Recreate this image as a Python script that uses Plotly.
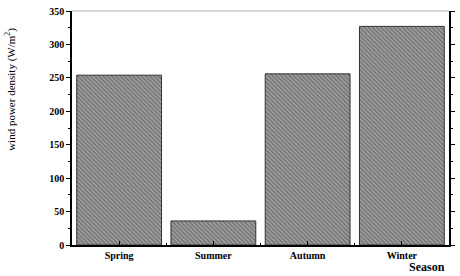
import plotly.graph_objects as go

seasons = ["Spring", "Summer", "Autumn", "Winter"]
density = [254, 36, 256, 327]
positions = [0, 1, 2, 3]
y_ticks = [0, 50, 100, 150, 200, 250, 300, 350]

font_fam = "Liberation Serif"

fig = go.Figure()
fig.add_trace(go.Bar(
    x=positions, y=density, width=0.9,
    marker=dict(
        color="#909090",
        line=dict(color="#333333", width=1),
        pattern=dict(shape="\\", size=3, solidity=0.45, fgcolor="#3c3c3c", bgcolor="#a0a0a0"),
    ),
))

fig.update_layout(
    width=460, height=276,
    margin=dict(l=72, r=5, t=11, b=31),
    plot_bgcolor="white", paper_bgcolor="white",
    showlegend=False,
    font=dict(family=font_fam, color="black"),
    xaxis=dict(
        range=[-0.5, 3.5],
        tickvals=positions, ticktext=[f"<b>{s}</b>" for s in seasons],
        ticks="inside", ticklen=4, tickcolor="black", tickwidth=1,
        minor=dict(tick0=0.5, dtick=1, ticks="inside", ticklen=2, tickcolor="black"),
        showline=True, linecolor="black", linewidth=1.5,
        showgrid=False, zeroline=False,
        tickfont=dict(size=10, family=font_fam),
    ),
    yaxis=dict(
        range=[0, 350],
        tickvals=y_ticks, ticktext=[f"<b>{v}</b>" for v in y_ticks],
        ticks="outside", ticklen=4, tickcolor="black", tickwidth=1,
        minor=dict(dtick=25, ticks="outside", ticklen=2, tickcolor="black"),
        showline=True, linecolor="black", linewidth=1.5, mirror="ticks",
        showgrid=False, zeroline=False,
        tickfont=dict(size=10, family=font_fam),
    ),
)

fig.add_shape(type="line", xref="paper", yref="paper", x0=0, x1=1, y0=1, y1=1,
              line=dict(color="#cccccc", width=1.5))

fig.add_annotation(text="wind power density (W/m<sup>2</sup>)", xref="paper", yref="paper",
                   x=-0.162, y=0.667, xanchor="center", yanchor="middle", textangle=-90,
                   showarrow=False, font=dict(size=11, family=font_fam))

fig.add_annotation(text="<b>Season</b>", xref="paper", yref="paper", x=0.995, y=-0.094,
                   xanchor="right", yanchor="middle", showarrow=False,
                   font=dict(size=12, family=font_fam))

fig.write_html("out.html", config={"displayModeBar": False},
               post_script="document.body.style.margin='0';")
